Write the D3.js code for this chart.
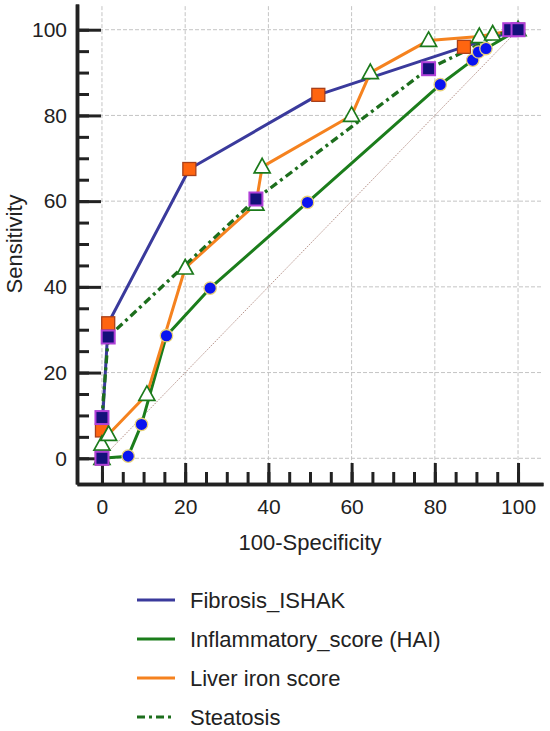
<!DOCTYPE html>
<html><head><meta charset="utf-8">
<script src="https://cdn.jsdelivr.net/npm/d3@7"></script>
<style>body{margin:0;background:#fff}svg{display:block}text{font-family:"Liberation Sans",Arial,sans-serif;fill:#222}</style>
</head><body><svg id="c" width="550" height="731"></svg>
<script>
// ---- data ----
const xMajorTicks = [0, 20, 40, 60, 80, 100];
const yMajorTicks = [0, 20, 40, 60, 80, 100];
const minorTicks = d3.range(0, 101, 5);
const seriesNames = ["Fibrosis_ISHAK", "Inflammatory_score (HAI)", "Liver iron score", "Steatosis"];
const fibrosis = [[0,0],[0,6.5],[1.5,31.5],[21,67.5],[52,84.8],[87,96],[100,100]];
const inflammatory = [[0,0],[6.3,0.5],[9.5,7.9],[15.5,28.6],[26,39.7],[49.4,59.7],[81.3,87.2],[89.1,92.9],[90.5,94.8],[92.3,95.6],[100,100]];
const liverIron = [[0,0],[0,3.3],[1.6,5.6],[10.8,14.9],[20,44.4],[37,59.3],[38.5,68],[60,80],[64.5,90],[78.5,97.5],[90.7,98.4],[93.9,99],[100,100]];
const steatosis = [[0,0],[0,9.5],[1.5,28.3],[37,60.5],[78.5,90.9],[98,100],[100,100]];
const diagonal = [[0,0],[100,100]];

const svg = d3.select("#c");
const x = d3.scaleLinear().domain([-6, 106]).range([77, 543]);
const y = d3.scaleLinear().domain([-6, 106]).range([484, 4]);

// gridlines
const grid = svg.append("g").attr("stroke", "#c4c4c4").attr("stroke-width", 1).attr("stroke-dasharray", "4,2");
grid.selectAll(".gv").data(xMajorTicks).join("line")
  .attr("x1", d => x(d)).attr("x2", d => x(d)).attr("y1", y(105.5)).attr("y2", y(-6) - 20);
grid.selectAll(".gh").data(yMajorTicks).join("line")
  .attr("y1", d => y(d)).attr("y2", d => y(d)).attr("x1", x(-6) + 22).attr("x2", x(105.8));

// diagonal
const line = d3.line().x(d => x(d[0])).y(d => y(d[1]));
svg.append("path").attr("d", line(diagonal)).attr("fill", "none")
  .attr("stroke", "#b8958c").attr("stroke-width", 1).attr("stroke-dasharray", "1.5,1.2");

// axes
const axisColor = "#222";
const xMinor = svg.append("g").attr("transform", `translate(0,${y(-6)})`)
  .call(d3.axisBottom(x).tickValues(minorTicks).tickSizeInner(-12).tickSizeOuter(0).tickFormat(""));
const xAx = svg.append("g").attr("transform", `translate(0,${y(-6)})`)
  .call(d3.axisBottom(x).tickValues(xMajorTicks).tickSizeInner(-21).tickSizeOuter(0).tickPadding(15));
const yMinor = svg.append("g").attr("transform", `translate(${x(-6)},0)`)
  .call(d3.axisLeft(y).tickValues(minorTicks).tickSizeInner(-12).tickSizeOuter(0).tickFormat(""));
const yAx = svg.append("g").attr("transform", `translate(${x(-6)},0)`)
  .call(d3.axisLeft(y).tickValues(yMajorTicks).tickSizeInner(-24).tickSizeOuter(0).tickPadding(10));
[xMinor, xAx, yMinor, yAx].forEach(g => {
  g.selectAll("line").attr("stroke", axisColor).attr("stroke-width", 3);
  g.select(".domain").attr("stroke", axisColor).attr("stroke-width", 3.5);
  g.selectAll("text").attr("font-size", 21).attr("fill", "#222")
    .style("font-family", '"Liberation Sans",Arial,sans-serif');
});

// axis titles
svg.append("text").attr("x", x(50)).attr("y", 550).attr("text-anchor", "middle")
  .attr("font-size", 22).text("100-Specificity");
svg.append("text").attr("transform", `translate(14,${y(50)}) rotate(-90)`)
  .attr("text-anchor", "middle").attr("dominant-baseline", "central")
  .attr("font-size", 22).text("Sensitivity");

// series lines
const lineStyles = [
  {data: fibrosis, color: "#3a3a9c", dash: null},
  {data: inflammatory, color: "#1b7d1b", dash: null},
  {data: liverIron, color: "#f5821f", dash: null},
  {data: steatosis, color: "#1d6e1d", dash: "8,4,3,4"}
];
lineStyles.forEach(s => {
  svg.append("path").attr("d", line(s.data)).attr("fill", "none")
    .attr("stroke", s.color).attr("stroke-width", s.dash ? 3.3 : 3).attr("stroke-dasharray", s.dash)
    .attr("stroke-linejoin", "round");
});

// markers
const sq = 13;
svg.append("g").selectAll("rect").data(fibrosis).join("rect")
  .attr("x", d => x(d[0]) - sq/2).attr("y", d => y(d[1]) - sq/2).attr("width", sq).attr("height", sq)
  .attr("fill", "#ff6510").attr("stroke", "#a8401a").attr("stroke-width", 1.3);
const tri = d => { const cx = x(d[0]), cy = y(d[1]); return `M${cx},${cy-8.5}L${cx+8},${cy+6}L${cx-8},${cy+6}Z`; };
svg.append("g").selectAll("path").data(liverIron).join("path")
  .attr("d", tri).attr("fill", "#fff").attr("stroke", "#1b7a1b").attr("stroke-width", 1.7);
svg.append("g").selectAll("circle").data(inflammatory).join("circle")
  .attr("cx", d => x(d[0])).attr("cy", d => y(d[1])).attr("r", 6.2)
  .attr("fill", "#0a14f0").attr("stroke", "#e9d27a").attr("stroke-width", 1.3);
svg.append("g").selectAll("rect").data(steatosis).join("rect")
  .attr("x", d => x(d[0]) - sq/2).attr("y", d => y(d[1]) - sq/2).attr("width", sq).attr("height", sq)
  .attr("fill", "#14107a").attr("stroke", "#b040d8").attr("stroke-width", 2);

// legend
const leg = svg.append("g");
const legY = d3.scalePoint().domain(seriesNames).range([600, 717]);
seriesNames.forEach((n, i) => {
  const s = lineStyles[i];
  leg.append("line").attr("x1", 137).attr("x2", 175).attr("y1", legY(n)).attr("y2", legY(n))
    .attr("stroke", s.color).attr("stroke-width", 3).attr("stroke-dasharray", s.dash);
  leg.append("text").attr("x", 190).attr("y", legY(n) + 8).attr("font-size", 22).text(n);
});
</script></body></html>
